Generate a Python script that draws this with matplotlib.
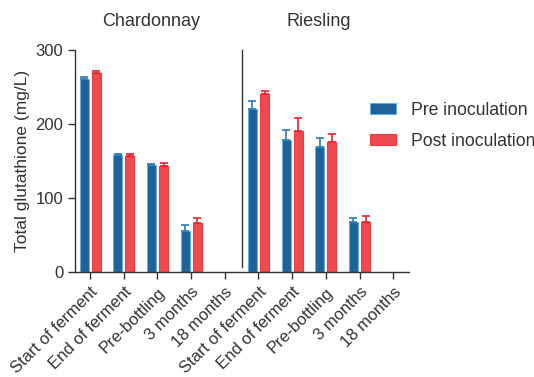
import matplotlib
matplotlib.use("Agg")
import matplotlib.pyplot as plt
import numpy as np

plt.rcParams['font.family'] = ['Liberation Sans', 'DejaVu Sans']

categories = ["Start of ferment", "End of ferment", "Pre-bottling", "3 months", "18 months",
              "Start of ferment", "End of ferment", "Pre-bottling", "3 months", "18 months"]
groups = ["Chardonnay", "Riesling"]
pre_vals = [260.5, 158, 144, 55, np.nan, 220, 179, 168.5, 67.5, np.nan]
pre_err = [2.5, 2, 2.5, 8.5, np.nan, 10.5, 13.5, 13, 6, np.nan]
post_vals = [268.5, 156.5, 143, 66, np.nan, 241, 191, 175.5, 67.5, np.nan]
post_err = [3.5, 3, 4.5, 6.5, np.nan, 3, 16.5, 11, 8, np.nan]

blue_face, blue_edge, blue_err = '#1d6298', '#6aaede', '#2b7ab6'
red_face, red_edge, red_err = '#ef4a4f', '#ea3a40', '#e4242c'

fig = plt.figure(figsize=(5.34, 3.77), dpi=100)
ax = fig.add_axes([75/534, 1-272/377, (409-75)/534, (272-50)/377])

x = np.arange(len(categories))
w = 0.27
off = 0.18
ax.bar(x - off, pre_vals, w, color=blue_face, edgecolor=blue_edge, linewidth=0.8,
       label='Pre inoculation')
ax.bar(x + off, post_vals, w, color=red_face, edgecolor=red_edge, linewidth=0.8,
       label='Post inoculation')
pe = np.array(pre_err)
qe = np.array(post_err)
ax.errorbar(x - off, pre_vals, yerr=[np.zeros_like(pe), pe], fmt='none', ecolor=blue_err,
            elinewidth=1.2, capsize=3, capthick=1.2)
ax.errorbar(x + off, post_vals, yerr=[np.zeros_like(qe), qe], fmt='none', ecolor=red_err,
            elinewidth=1.2, capsize=3, capthick=1.2)

ax.plot([4.5, 4.5], [7, 300], color='#333333', lw=1.0, clip_on=False)

ax.set_xlim(-0.45, 9.47)
ax.set_ylim(0, 300)
ax.set_yticks([0, 100, 200, 300])
ax.set_xticks(x)
ax.set_xticklabels(categories, rotation=45, ha='right', rotation_mode='anchor', fontsize=12)
ax.tick_params(axis='both', direction='out', length=5, width=1, labelsize=12, colors='#333333',
               labelcolor='#333333')
ax.tick_params(axis='x', pad=4)
for s in ['top', 'right']:
    ax.spines[s].set_visible(False)
for s in ['left', 'bottom']:
    ax.spines[s].set_color('#333333')
    ax.spines[s].set_linewidth(1)
ax.set_ylabel('Total glutathione (mg/L)', fontsize=12.5, color='#333333', labelpad=4)

ax.text(1.8, 1.13, groups[0], transform=ax.get_xaxis_transform(), ha='center', va='center',
        fontsize=13, color='#333333')
ax.text(6.8, 1.13, groups[1], transform=ax.get_xaxis_transform(), ha='center', va='center',
        fontsize=13, color='#333333')

leg = ax.legend(loc='center left', bbox_to_anchor=(363/534, 1-126/377), bbox_transform=fig.transFigure,
                frameon=False, fontsize=12.7, handlelength=1.45, handleheight=0.6,
                labelspacing=0.8, handletextpad=0.85, borderaxespad=0)
for t in leg.get_texts():
    t.set_color('#333333')

fig.savefig('out.png', dpi=100)
